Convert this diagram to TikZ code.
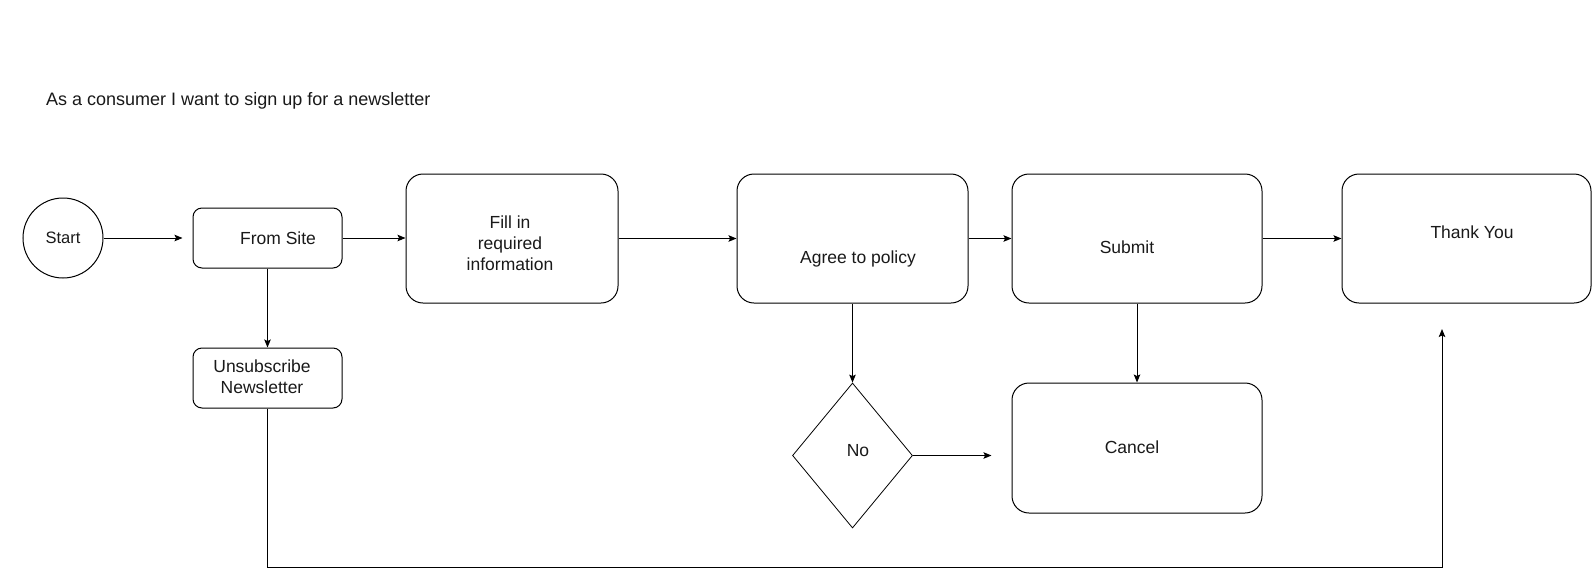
\documentclass[tikz,border=0pt]{standalone}
\usepackage{fontspec}
\setmainfont{Liberation Sans}
\usetikzlibrary{arrows.meta,shapes.geometric,calc}
\begin{document}
\begin{tikzpicture}[x=1pt,y=-1pt,
  every node/.style={font=\fontsize{17.5}{21}\selectfont, text=black!90},
  bigbox/.style={draw, line width=1pt, rounded corners=17pt, inner sep=0pt, minimum height=129pt},
  smallbox/.style={draw, line width=1pt, rounded corners=9pt, inner sep=0pt, minimum width=149pt, minimum height=60pt},
  arr/.style={draw, line width=1pt, -{Stealth[length=8pt,width=6.5pt,inset=1.5pt]}},
  lbl/.style={align=center, inner sep=0pt}]
\useasboundingbox (0,0) rectangle (1592,576);
\node[anchor=west, inner sep=0pt, font=\fontsize{18}{21}\selectfont] (title) at (46,101) {As a consumer I want to sign up for a newsletter};
\node[draw, circle, line width=1pt, minimum size=80pt, inner sep=0pt, font=\fontsize{16.5}{20}\selectfont] (start) at (63,238) {Start};
\node[smallbox, label={[lbl,xshift=10.5pt]center:From Site}] (fromsite) at (267.5,238) {};
\node[smallbox, label={[lbl,xshift=-5.5pt,yshift=1pt]center:Unsubscribe\\Newsletter}] (unsub) at (267.5,378) {};
\node[bigbox, minimum width=212pt, label={[lbl,xshift=-2pt,yshift=-4.5pt]center:Fill in\\required\\information}] (fill) at (512,238.5) {};
\node[bigbox, minimum width=231pt, label={[lbl,xshift=5.5pt,yshift=-20pt]center:Agree to policy}] (agree) at (852.5,238.5) {};
\node[bigbox, minimum width=250pt, label={[lbl,xshift=-10pt,yshift=-8.5pt]center:Submit}] (submit) at (1137,238.5) {};
\node[bigbox, minimum width=249pt, label={[lbl,xshift=5.5pt,yshift=6pt]center:Thank You}] (thank) at (1466.5,238.5) {};
\node[draw, diamond, line width=0.8pt, minimum width=120pt, minimum height=145pt, inner sep=0pt, label={[lbl,xshift=5.5pt,yshift=4.5pt]center:No}] (no) at (852.5,455.5) {};
\node[bigbox, minimum width=250pt, minimum height=130pt, label={[lbl,xshift=-5pt,yshift=1pt]center:Cancel}] (cancel) at (1137,448) {};
\coordinate (startend) at ($(fromsite.west)+(-10,0)$);
\coordinate (noend) at ($(cancel.west |- no.east)+(-20,0)$);
\coordinate (tyin) at (1442,329);
\coordinate (bottom) at (267.5,567.5);
\draw[arr] (start) -- (startend);
\draw[arr] (fromsite.east) -- (fill.west |- fromsite.east);
\draw[arr] (fill.east) -- (agree.west);
\draw[arr] (agree.east) -- (submit.west);
\draw[arr] (submit.east) -- (thank.west);
\draw[arr] (fromsite.south) -- (unsub.north);
\draw[arr] (agree.south) -- (no.north);
\draw[arr] (submit.south) -- (cancel.north);
\draw[arr] (no.east) -- (noend);
\draw[arr] (unsub.south) -- (bottom) -| (tyin);
\end{tikzpicture}
\end{document}
